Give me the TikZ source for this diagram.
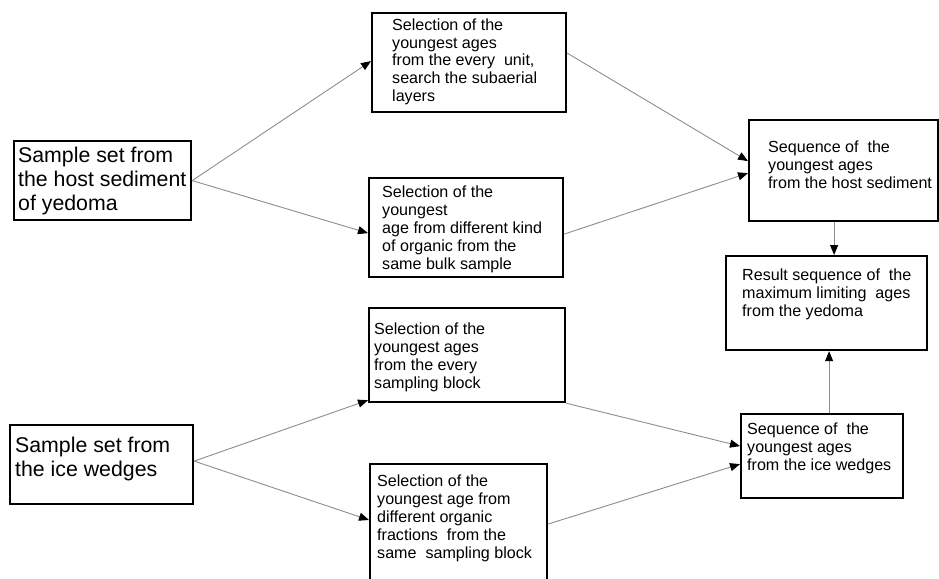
\documentclass[tikz,border=0pt]{standalone}
\usepackage{fontspec}
\setmainfont{Liberation Sans}
\usetikzlibrary{arrows.meta}
\tikzset{
  box/.style={draw=black, line width=2.2pt, fill=none, inner sep=0pt, anchor=north west},
  smalltxt/.style={anchor=north west, inner sep=0pt, align=left, font=\fontsize{16.1}{17.8}\selectfont},
  bigtxt/.style={anchor=north west, inner sep=0pt, align=left, font=\fontsize{21.3}{24}\selectfont},
  conn/.style={draw=black!45, line width=0.9pt, -{Triangle[length=10pt,width=8pt,color=black]}},
}
\begin{document}
\begin{tikzpicture}[x=1pt,y=-1pt]
\useasboundingbox (0,0) rectangle (939,578);
% boxes
\node[box, minimum width=177pt, minimum height=79pt] (A) at (13,140) {};
\node[box, minimum width=194pt, minimum height=99pt] (B1) at (371,12) {};
\node[box, minimum width=194pt, minimum height=99pt] (B2) at (368,177) {};
\node[box, minimum width=189pt, minimum height=101pt] (C1) at (748,119) {};
\node[box, minimum width=201pt, minimum height=94pt] (D) at (725,255) {};
\node[box, minimum width=162pt, minimum height=84pt] (E) at (740,413) {};
\node[box, minimum width=196pt, minimum height=94pt] (F1) at (368,307) {};
\node[box, minimum width=177pt, minimum height=127pt] (F2) at (369,463) {};
\node[box, minimum width=183pt, minimum height=79pt] (G) at (9,424) {};
% texts
\node[bigtxt] (At) at (18,147) {Sample set from\\the host sediment\\of yedoma};
\node[bigtxt] (Gt) at (15,437) {Sample set from\\the ice wedges};
\node[smalltxt] (B1t) at (392,18.5) {Selection of the\\youngest ages\\from the every~ unit,\\search the subaerial\\layers};
\node[smalltxt] (B2t) at (382,186) {Selection of the\\youngest\\age from different kind\\of organic from the\\same bulk sample};
\node[smalltxt] (C1t) at (768,141) {Sequence of~ the\\youngest ages\\from the host sediment};
\node[smalltxt] (Dt) at (742,269) {Result sequence of~ the\\maximum limiting~ ages\\from the yedoma};
\node[smalltxt] (Et) at (747,423) {Sequence of~ the\\youngest ages\\from the ice wedges};
\node[smalltxt] (F1t) at (374,323) {Selection of the\\youngest ages\\from the every\\sampling block};
\node[smalltxt] (F2t) at (377,475) {Selection of the\\youngest age from\\different organic\\fractions~ from the\\same~ sampling block};
% connectors
\draw[conn] (A.east) -- ([yshift=1.5pt]B1.west);
\draw[conn] (A.east) -- ([yshift=-5.5pt]B2.west);
\draw[conn] ([yshift=9.5pt]B1.east) -- ([yshift=9.5pt]C1.west);
\draw[conn] ([yshift=-6.5pt]B2.east) -- ([yshift=-2.5pt]C1.west);
\draw[conn] ([xshift=-9.5pt]C1.south) -- ([xshift=7.5pt]D.north);
\draw[conn] ([xshift=7pt]E.north) -- ([xshift=2.5pt]D.south);
\draw[conn] ([yshift=3.5pt]G.east) -- ([yshift=3pt]F1.south west);
\draw[conn] ([yshift=3.5pt]G.east) -- ([yshift=-57pt]F2.north west);
\draw[conn] (F1.south east) -- ([yshift=10pt]E.west);
\draw[conn] ([yshift=-61pt]F2.north east) -- ([yshift=-8pt]E.west);
\end{tikzpicture}
\end{document}
